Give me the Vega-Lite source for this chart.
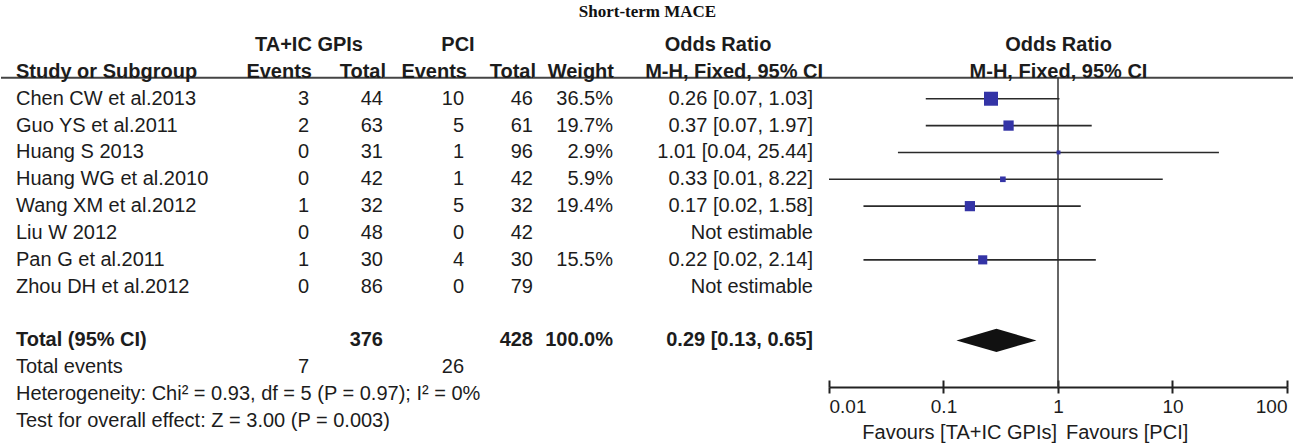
{
  "$schema": "https://vega.github.io/schema/vega-lite/v6.json",
  "padding": {"top": 2, "left": 0, "right": 0, "bottom": 0},
  "background": "white",
  "spacing": 0,
  "bounds": "flush",
  "title": {"text": "Short-term MACE", "font": "Liberation Serif", "fontSize": 17, "fontWeight": "bold", "color": "#111", "anchor": "middle", "offset": 2.5},
  "config": {
    "view": {"stroke": null},
    "text": {"font": "Liberation Sans", "fontSize": 20, "color": "#1c1c1c", "baseline": "middle"},
    "axis": {"labelFont": "Liberation Sans", "labelFontSize": 19, "labelColor": "#1c1c1c"}
  },
  "datasets": {
    "rows": [
      {"row": "s1", "kind": "study", "label": "Chen CW et al.2013", "e1": 3, "t1": 44, "e2": 10, "t2": 46, "weight": "36.5%", "w": 36.5, "ci": "0.26 [0.07, 1.03]", "or": 0.26, "lo": 0.07, "hi": 1.03},
      {"row": "s2", "kind": "study", "label": "Guo YS et al.2011", "e1": 2, "t1": 63, "e2": 5, "t2": 61, "weight": "19.7%", "w": 19.7, "ci": "0.37 [0.07, 1.97]", "or": 0.37, "lo": 0.07, "hi": 1.97},
      {"row": "s3", "kind": "study", "label": "Huang S 2013", "e1": 0, "t1": 31, "e2": 1, "t2": 96, "weight": "2.9%", "w": 2.9, "ci": "1.01 [0.04, 25.44]", "or": 1.01, "lo": 0.04, "hi": 25.44},
      {"row": "s4", "kind": "study", "label": "Huang WG et al.2010", "e1": 0, "t1": 42, "e2": 1, "t2": 42, "weight": "5.9%", "w": 5.9, "ci": "0.33 [0.01, 8.22]", "or": 0.33, "lo": 0.01, "hi": 8.22},
      {"row": "s5", "kind": "study", "label": "Wang XM et al.2012", "e1": 1, "t1": 32, "e2": 5, "t2": 32, "weight": "19.4%", "w": 19.4, "ci": "0.17 [0.02, 1.58]", "or": 0.17, "lo": 0.02, "hi": 1.58},
      {"row": "s6", "kind": "study", "label": "Liu W 2012", "e1": 0, "t1": 48, "e2": 0, "t2": 42, "ci": "Not estimable"},
      {"row": "s7", "kind": "study", "label": "Pan G et al.2011", "e1": 1, "t1": 30, "e2": 4, "t2": 30, "weight": "15.5%", "w": 15.5, "ci": "0.22 [0.02, 2.14]", "or": 0.22, "lo": 0.02, "hi": 2.14},
      {"row": "s8", "kind": "study", "label": "Zhou DH et al.2012", "e1": 0, "t1": 86, "e2": 0, "t2": 79, "ci": "Not estimable"},
      {"row": "tot", "kind": "total", "label": "Total (95% CI)", "t1": 376, "t2": 428, "weight": "100.0%", "ci": "0.29 [0.13, 0.65]", "or": 0.29, "lo": 0.13, "hi": 0.65},
      {"row": "ev", "kind": "note", "label": "Total events", "e1": 7, "e2": 26},
      {"row": "het", "kind": "note", "label": "Heterogeneity: Chi² = 0.93, df = 5 (P = 0.97); I² = 0%"},
      {"row": "test", "kind": "note", "label": "Test for overall effect: Z = 3.00 (P = 0.003)"}
    ],
    "headers": [
      {"row": "h1", "col": "grp1", "text": "TA+IC GPIs"},
      {"row": "h1", "col": "grp2", "text": "PCI"},
      {"row": "h1", "col": "or", "text": "Odds Ratio"},
      {"row": "h1", "col": "forest", "text": "Odds Ratio"},
      {"row": "h2", "col": "study", "text": "Study or Subgroup"},
      {"row": "h2", "col": "e1", "text": "Events"},
      {"row": "h2", "col": "t1", "text": "Total"},
      {"row": "h2", "col": "e2", "text": "Events"},
      {"row": "h2", "col": "t2", "text": "Total"},
      {"row": "h2", "col": "weight", "text": "Weight"},
      {"row": "h2", "col": "or", "text": "M-H, Fixed, 95% CI"},
      {"row": "h2", "col": "forest", "text": "M-H, Fixed, 95% CI"}
    ],
    "favours": [
      {"side": "left", "text": "Favours [TA+IC GPIs]"},
      {"side": "right", "text": "Favours [PCI]"}
    ]
  },
  "hconcat": [
    {
      "width": 234, "height": 420,
      "encoding": {"y": {"field": "row", "type": "nominal", "scale": {"type": "point", "domain": ["h1","h2","s1","s2","s3","s4","s5","s6","s7","s8","gap","tot","ev","het","test"], "padding": 0.82}, "axis": null}},
      "layer": [
        {"data": {"name": "headers"}, "transform": [{"filter": "datum.row === 'h2' && datum.col === 'study'"}],
         "mark": {"type": "rule", "yOffset": 6, "stroke": "#444", "strokeWidth": 2}, "encoding": {}},
        {"data": {"name": "headers"}, "transform": [{"filter": "datum.col === 'study'"}],
         "mark": {"type": "text", "align": "left", "dx": 15, "fontWeight": "bold"},
         "encoding": {"x": {"value": 0}, "text": {"field": "text"}}},
        {"data": {"name": "rows"},
         "mark": {"type": "text", "align": "left", "dx": 15, "fontWeight": {"expr": "datum.kind === 'total' ? 'bold' : 'normal'"}},
         "encoding": {"x": {"value": 0}, "text": {"field": "label"}}}
      ]
    },
    {
      "width": 148, "height": 420,
      "encoding": {"y": {"field": "row", "type": "nominal", "scale": {"type": "point", "domain": ["h1","h2","s1","s2","s3","s4","s5","s6","s7","s8","gap","tot","ev","het","test"], "padding": 0.82}, "axis": null}},
      "layer": [
        {"data": {"name": "headers"}, "transform": [{"filter": "datum.row === 'h2' && datum.col === 'e1'"}],
         "mark": {"type": "rule", "yOffset": 6, "stroke": "#444", "strokeWidth": 2}, "encoding": {}},
        {"data": {"name": "headers"}, "transform": [{"filter": "datum.col === 'grp1'"}],
         "mark": {"type": "text", "align": "center", "fontWeight": "bold"},
         "encoding": {"text": {"field": "text"}}},
        {"data": {"name": "headers"}, "transform": [{"filter": "datum.col === 'e1' || datum.col === 't1'"}],
         "mark": {"type": "text", "align": "right", "dx": 3, "fontWeight": "bold"},
         "encoding": {"x": {"field": "col", "type": "nominal", "bandPosition": 1, "scale": {"type": "band", "domain": ["e1", "t1"], "paddingInner": 0, "paddingOuter": 0}, "axis": null}, "text": {"field": "text"}}},
        {"data": {"name": "rows"}, "transform": [{"fold": ["e1", "t1"], "as": ["col", "val"]}, {"filter": "isValid(datum.val)"}],
         "mark": {"type": "text", "align": "right", "fontWeight": {"expr": "datum.kind === 'total' ? 'bold' : 'normal'"}},
         "encoding": {"x": {"field": "col", "type": "nominal", "bandPosition": 1, "scale": {"type": "band", "domain": ["e1", "t1"], "paddingInner": 0, "paddingOuter": 0}, "axis": null}, "text": {"field": "val"}}}
      ]
    },
    {
      "width": 150, "height": 420,
      "encoding": {"y": {"field": "row", "type": "nominal", "scale": {"type": "point", "domain": ["h1","h2","s1","s2","s3","s4","s5","s6","s7","s8","gap","tot","ev","het","test"], "padding": 0.82}, "axis": null}},
      "layer": [
        {"data": {"name": "headers"}, "transform": [{"filter": "datum.row === 'h2' && datum.col === 'e2'"}],
         "mark": {"type": "rule", "yOffset": 6, "stroke": "#444", "strokeWidth": 2}, "encoding": {}},
        {"data": {"name": "headers"}, "transform": [{"filter": "datum.col === 'grp2'"}],
         "mark": {"type": "text", "align": "center", "fontWeight": "bold"},
         "encoding": {"text": {"field": "text"}}},
        {"data": {"name": "headers"}, "transform": [{"filter": "datum.col === 'e2' || datum.col === 't2'"}],
         "mark": {"type": "text", "align": "right", "dx": 3, "fontWeight": "bold"},
         "encoding": {"x": {"field": "col", "type": "nominal", "bandPosition": 1, "scale": {"type": "band", "domain": ["e2", "t2"], "paddingInner": 0, "paddingOuter": 0.087, "align": 1}, "axis": null}, "text": {"field": "text"}}},
        {"data": {"name": "rows"}, "transform": [{"fold": ["e2", "t2"], "as": ["col", "val"]}, {"filter": "isValid(datum.val)"}],
         "mark": {"type": "text", "align": "right", "fontWeight": {"expr": "datum.kind === 'total' ? 'bold' : 'normal'"}},
         "encoding": {"x": {"field": "col", "type": "nominal", "bandPosition": 1, "scale": {"type": "band", "domain": ["e2", "t2"], "paddingInner": 0, "paddingOuter": 0.087, "align": 1}, "axis": null}, "text": {"field": "val"}}}
      ]
    },
    {
      "width": 80, "height": 420,
      "encoding": {"y": {"field": "row", "type": "nominal", "scale": {"type": "point", "domain": ["h1","h2","s1","s2","s3","s4","s5","s6","s7","s8","gap","tot","ev","het","test"], "padding": 0.82}, "axis": null}},
      "layer": [
        {"data": {"name": "headers"}, "transform": [{"filter": "datum.row === 'h2' && datum.col === 'weight'"}],
         "mark": {"type": "rule", "yOffset": 6, "stroke": "#444", "strokeWidth": 2}, "encoding": {}},
        {"data": {"name": "headers"}, "transform": [{"filter": "datum.col === 'weight'"}],
         "mark": {"type": "text", "align": "right", "dx": 1, "fontWeight": "bold"},
         "encoding": {"x": {"value": "width"}, "text": {"field": "text"}}},
        {"data": {"name": "rows"}, "transform": [{"filter": "isValid(datum.weight)"}],
         "mark": {"type": "text", "align": "right", "fontWeight": {"expr": "datum.kind === 'total' ? 'bold' : 'normal'"}},
         "encoding": {"x": {"value": "width"}, "text": {"field": "weight"}}}
      ]
    },
    {
      "width": 210, "height": 420,
      "encoding": {"y": {"field": "row", "type": "nominal", "scale": {"type": "point", "domain": ["h1","h2","s1","s2","s3","s4","s5","s6","s7","s8","gap","tot","ev","het","test"], "padding": 0.82}, "axis": null}},
      "layer": [
        {"data": {"name": "headers"}, "transform": [{"filter": "datum.row === 'h2' && datum.col === 'or'"}],
         "mark": {"type": "rule", "yOffset": 6, "stroke": "#444", "strokeWidth": 2}, "encoding": {}},
        {"data": {"name": "headers"}, "transform": [{"filter": "datum.row === 'h1' && datum.col === 'or'"}],
         "mark": {"type": "text", "align": "center", "fontWeight": "bold"},
         "encoding": {"text": {"field": "text"}}},
        {"data": {"name": "headers"}, "transform": [{"filter": "datum.row === 'h2' && datum.col === 'or'"}],
         "mark": {"type": "text", "align": "right", "fontWeight": "bold"},
         "encoding": {"x": {"value": "width"}, "text": {"field": "text"}}},
        {"data": {"name": "rows"}, "transform": [{"filter": "isValid(datum.ci)"}],
         "mark": {"type": "text", "align": "right", "dx": -10, "fontWeight": {"expr": "datum.kind === 'total' ? 'bold' : 'normal'"}},
         "encoding": {"x": {"value": "width"}, "text": {"field": "ci"}}}
      ]
    },
    {
      "width": 471, "height": 420,
      "encoding": {"y": {"field": "row", "type": "nominal", "scale": {"type": "point", "domain": ["h1","h2","s1","s2","s3","s4","s5","s6","s7","s8","gap","tot","ev","het","test"], "padding": 0.82}, "axis": null}},
      "resolve": {"axis": {"x": "independent"}},
      "layer": [
        {"data": {"name": "headers"}, "transform": [{"filter": "datum.row === 'h2' && datum.col === 'forest'"}],
         "mark": {"type": "rule", "yOffset": 6, "stroke": "#444", "strokeWidth": 2}, "encoding": {}},
        {"data": {"name": "headers"}, "transform": [{"filter": "datum.col === 'forest'"}],
         "mark": {"type": "text", "align": "center", "fontWeight": "bold"},
         "encoding": {"text": {"field": "text"}}},
        {"data": {"name": "headers"}, "transform": [{"filter": "datum.row === 'h2' && datum.col === 'forest'"}],
         "mark": {"type": "rule", "yOffset": 6, "y2Offset": -6, "stroke": "#333", "strokeWidth": 1.5},
         "encoding": {
           "x": {"datum": 1, "type": "quantitative", "scale": {"type": "log", "domain": [0.01, 100], "range": [6, 464], "nice": false},
                 "axis": {"orient": "bottom", "offset": -56, "values": [0.01, 0.1, 1, 10, 100], "format": "~g", "labelFlush": true, "title": null, "grid": false, "tickSize": 6, "tickWidth": 2, "domainWidth": 2, "domainColor": "#222", "tickColor": "#222", "labelPadding": 4}},
           "y2": {"datum": "het"}
         }},
        {"data": {"name": "rows"}, "transform": [{"filter": "datum.kind === 'study' && isValid(datum.lo)"}],
         "mark": {"type": "rule", "stroke": "#2a2a2a", "strokeWidth": 1.6},
         "encoding": {
           "x": {"field": "lo", "type": "quantitative", "scale": {"type": "log", "domain": [0.01, 100], "range": [6, 464], "nice": false},
                 "axis": {"orient": "top", "offset": -364, "values": [0.01, 0.1, 1, 10, 100], "labels": false, "domain": false, "title": null, "grid": false, "tickSize": 7, "tickWidth": 2, "tickColor": "#222"}},
           "x2": {"field": "hi"}
         }},
        {"data": {"name": "rows"}, "transform": [{"filter": "datum.kind === 'study' && isValid(datum.w)"}],
         "mark": {"type": "square", "filled": true, "opacity": 1, "color": "#3434a6"},
         "encoding": {
           "x": {"field": "or", "type": "quantitative", "scale": {"type": "log", "domain": [0.01, 100], "range": [6, 464], "nice": false}, "axis": null},
           "size": {"field": "w", "type": "quantitative", "scale": {"domain": [0, 36.5], "range": [0, 196]}, "legend": null}
         }},
        {"data": {"name": "rows"}, "transform": [{"filter": "datum.kind === 'total'"}],
         "mark": {"type": "point", "shape": "M-1,0L0,-0.29L1,0L0,0.29Z", "size": 6400, "filled": true, "opacity": 1, "color": "#111"},
         "encoding": {
           "x": {"field": "or", "type": "quantitative", "scale": {"type": "log", "domain": [0.01, 100], "range": [6, 464], "nice": false}, "axis": null}
         }},
        {"data": {"name": "favours"}, "transform": [{"filter": "datum.side === 'left'"}],
         "mark": {"type": "text", "align": "right", "dx": -1, "dy": 12},
         "encoding": {
           "x": {"datum": 1, "type": "quantitative", "scale": {"type": "log", "domain": [0.01, 100], "range": [6, 464], "nice": false}, "axis": null},
           "y": {"datum": "test", "type": "nominal", "scale": {"type": "point", "domain": ["h1","h2","s1","s2","s3","s4","s5","s6","s7","s8","gap","tot","ev","het","test"], "padding": 0.82}, "axis": null},
           "text": {"field": "text"}
         }},
        {"data": {"name": "favours"}, "transform": [{"filter": "datum.side === 'right'"}],
         "mark": {"type": "text", "align": "left", "dx": 8, "dy": 12},
         "encoding": {
           "x": {"datum": 1, "type": "quantitative", "scale": {"type": "log", "domain": [0.01, 100], "range": [6, 464], "nice": false}, "axis": null},
           "y": {"datum": "test", "type": "nominal", "scale": {"type": "point", "domain": ["h1","h2","s1","s2","s3","s4","s5","s6","s7","s8","gap","tot","ev","het","test"], "padding": 0.82}, "axis": null},
           "text": {"field": "text"}
         }}
      ]
    }
  ]
}
